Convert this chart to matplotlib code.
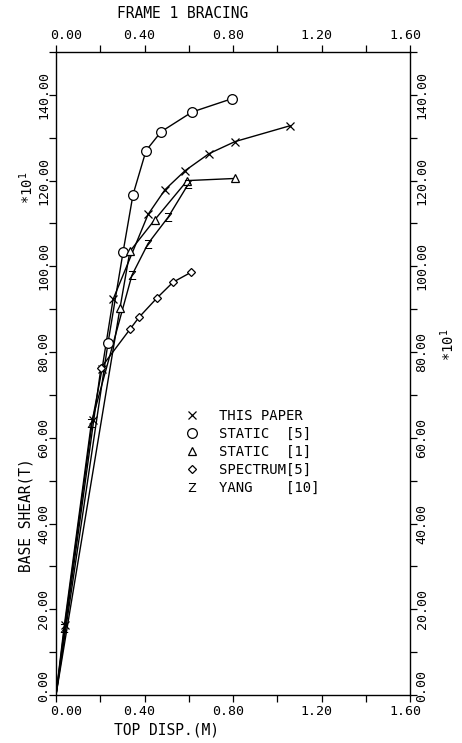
import matplotlib
matplotlib.use('Agg')
import matplotlib.pyplot as plt
import matplotlib.transforms as mtrans
from matplotlib.lines import Line2D

# values (x in m, y in T / 10)
this_x = [0.0, 0.04, 0.165, 0.208, 0.258, 0.416, 0.493, 0.583, 0.692, 0.809, 1.058]
this_y = [0.0, 16.3, 64.2, 76.0, 92.3, 112.1, 117.9, 122.3, 126.3, 129.1, 132.8]

st5_x = [0.0, 0.235, 0.303, 0.348, 0.407, 0.475, 0.615, 0.795]
st5_y = [0.0, 82.1, 103.3, 116.7, 127.0, 131.4, 136.0, 139.1]

st1_x = [0.0, 0.289, 0.334, 0.447, 0.593, 0.809]
st1_y = [0.0, 90.2, 103.5, 110.9, 120.0, 120.5]

spec_x = [0.0, 0.203, 0.334, 0.375, 0.456, 0.529, 0.610]
spec_y = [0.0, 76.3, 85.3, 88.1, 92.6, 96.3, 98.6]

yang_x = [0.0, 0.036, 0.16, 0.343, 0.416, 0.506, 0.597]
yang_y = [0.0, 15.6, 63.5, 97.9, 105.3, 111.4, 119.1]

labels = ['THIS PAPER', 'STATIC  [5]', 'STATIC  [1]', 'SPECTRUM[5]', 'YANG    [10]']

xticks = [0.0, 0.2, 0.4, 0.6, 0.8, 1.0, 1.2, 1.4, 1.6]
yticks = list(range(0, 151, 10))

plt.rcParams['font.family'] = ['DejaVu Sans Mono', 'DejaVu Sans']
plt.rcParams['font.size'] = 9.5

fig = plt.figure(figsize=(4.62, 7.43), dpi=100)
ax = fig.add_axes([56 / 462, 1 - 695 / 743, 354 / 462, 643 / 743])

series = [
    (this_x, this_y, 'x', 6, 0.9, 'white'),
    (st5_x, st5_y, 'o', 7, 0.9, 'white'),
    (st1_x, st1_y, '^', 6, 0.9, 'white'),
    (spec_x, spec_y, 'D', 4.5, 0.9, 'white'),
    (yang_x, yang_y, '$\\mathsf{Z}$', 6.5, 0.0, 'black'),
]
handles = []
for (xs, ys, m, ms, mw, fc), lab in zip(series, labels):
    ax.plot(xs[1:], ys[1:], ls='none', marker=m, ms=ms, mfc=fc,
            mec='black', mew=mw, zorder=3)
    ax.plot(xs, ys, color='black', lw=1.0, zorder=2)
    handles.append(Line2D([], [], ls='none', marker=m, ms=ms, mfc=fc,
                          mec='black', mew=mw, label=lab))

ax.set_xlim(0, 1.6)
ax.set_ylim(0, 150)
ax.set_xticks(xticks)
ax.set_yticks(yticks)
ax.set_xticklabels(['%.2f' % v if i % 2 == 0 else '' for i, v in enumerate(xticks)])
ax.set_yticklabels(['%.2f' % v if v % 20 == 0 else '' for v in yticks])
ax.tick_params(direction='out', length=5, width=0.9, color='black',
               top=True, right=True, labeltop=True, labelright=True)
ax.xaxis.set_tick_params(pad=2)
ax.yaxis.set_tick_params(labelrotation=90, pad=-1)
for sp in ax.spines.values():
    sp.set_linewidth(1.0)

# nudge tick labels like the plotter output
px = 1.0 / fig.dpi
for tick in ax.xaxis.get_major_ticks():
    dx = 10 if tick.get_loc() == 0 else -5
    off = mtrans.ScaledTranslation(dx * px, 0, fig.dpi_scale_trans)
    for lab in (tick.label1, tick.label2):
        lab.set_transform(lab.get_transform() + off)
for tick in ax.yaxis.get_major_ticks():
    lab1, lab2 = tick.label1, tick.label2
    lab1.set_va('center')
    lab2.set_va('center')
    if tick.get_loc() == 0:
        off = mtrans.ScaledTranslation(0, 9 * px, fig.dpi_scale_trans)
        for lab in (lab1, lab2):
            lab.set_transform(lab.get_transform() + off)

leg = ax.legend(handles=handles, loc='upper left', frameon=False,
                bbox_to_anchor=(0.33, 0.465), handlelength=1.0,
                handletextpad=1.4, labelspacing=0.3, fontsize=10)

fig.text(183 / 462, 1 - 14 / 743, 'FRAME 1 BRACING', ha='center', va='center', fontsize=10.5)
fig.text(167 / 462, 1 - 730 / 743, 'TOP DISP.(M)', ha='center', va='center', fontsize=10.5)
fig.text(26 / 462, 1 - 515 / 743, 'BASE SHEAR(T)', ha='center', va='center',
         rotation=90, fontsize=10.5)
fig.text(27 / 462, 1 - 188 / 743, '*10$^1$', ha='center', va='center',
         rotation=90, fontsize=10)
fig.text(448 / 462, 1 - 345 / 743, '*10$^1$', ha='center', va='center',
         rotation=90, fontsize=10)

fig.savefig('out.png', dpi=100)
